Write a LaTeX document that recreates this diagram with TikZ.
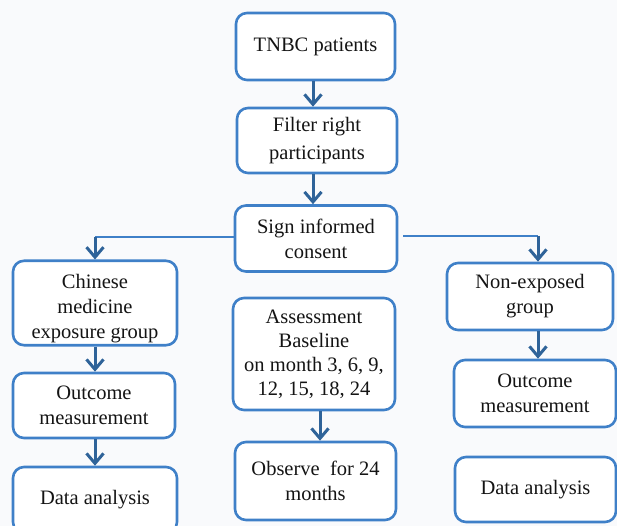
\documentclass[tikz,border=0pt]{standalone}
\usepackage{fontspec}
\setmainfont{Liberation Serif}
\usetikzlibrary{arrows.meta,calc}
\definecolor{boxblue}{HTML}{3F80C8}
\definecolor{arrblue}{HTML}{2F6399}
\definecolor{bgc}{HTML}{F9FAFC}
\definecolor{txt}{HTML}{141414}
\tikzset{
  x=1pt,y=1pt,
  fbox/.style={draw=boxblue, line width=2.6pt, rounded corners=11pt, fill=white,
    align=center, text=txt, inner sep=2pt, font=\fontsize{20.5}{25}\selectfont},
  conn/.style={draw=boxblue, line width=2.6pt},
  arr/.style={draw=arrblue, line width=3pt, -{Straight Barb[length=10pt,width=17pt,line width=3pt]}},
}
\begin{document}
\begin{tikzpicture}
\fill[bgc] (0,0) rectangle (617,-526);
\useasboundingbox (0,0) rectangle (617,-526);

\node[fbox, minimum width=159pt, minimum height=67pt] (tnbc) at (315.5,-46.5) {TNBC patients};
\node[fbox, minimum width=160pt, minimum height=65pt, font=\fontsize{20.5}{28}\selectfont] (filter) at (317,-140.5) {Filter right\\participants};
\node[fbox, minimum width=162pt, minimum height=66pt] (sign) at (316,-238.5) {Sign informed\\consent};

\node[fbox, minimum width=164pt, minimum height=80pt] (chin) at (95,-303) {\rule{0pt}{26pt}Chinese\\medicine\\exposure group};
\node[fbox, minimum width=162pt, minimum height=65pt] (outL) at (94,-405.5) {Outcome\\measurement};
\node[fbox, minimum width=164pt, minimum height=66pt] (dataL) at (95,-500) {Data analysis};

\node[fbox, minimum width=162pt, minimum height=112pt, font=\fontsize{20.5}{24}\selectfont] (assess) at (314,-354) {Assessment\\Baseline\\on month 3, 6, 9,\\12, 15, 18, 24};
\node[fbox, minimum width=161pt, minimum height=78pt] (observe) at (315.5,-481) {Observe\ \ for 24\\months};

\node[fbox, minimum width=166pt, minimum height=67pt] (nonexp) at (530,-296.5) {Non-exposed\\group};
\node[fbox, minimum width=162pt, minimum height=67pt] (outR) at (535,-393.5) {Outcome\\measurement};
\node[fbox, minimum width=161pt, minimum height=65pt] (dataR) at (535.5,-489.5) {Data analysis};

\coordinate (cL) at (95,-237);
\coordinate (cR) at (538,-236);
\coordinate (sR) at (403,-236);

\draw[arr] (tnbc.south -| 313,0) -- (filter.north -| 313,0);
\draw[arr] (filter.south -| 313,0) -- (sign.north -| 313,0);
\draw[conn] (sign.west |- cL) -- (cL);
\draw[arr] (cL) -- (cL |- chin.north);
\draw[conn] (sR) -- (cR);
\draw[arr] (cR) -- (cR |- nonexp.north);
\draw[arr] (chin.south -| 95,0) -- (outL.north -| 95,0);
\draw[arr] (outL.south -| 95,0) -- (dataL.north -| 95,0);
\draw[arr] (assess.south -| 320,0) -- (observe.north -| 320,0);
\draw[arr] (nonexp.south -| 538,0) -- (outR.north -| 538,0);
\end{tikzpicture}
\end{document}
